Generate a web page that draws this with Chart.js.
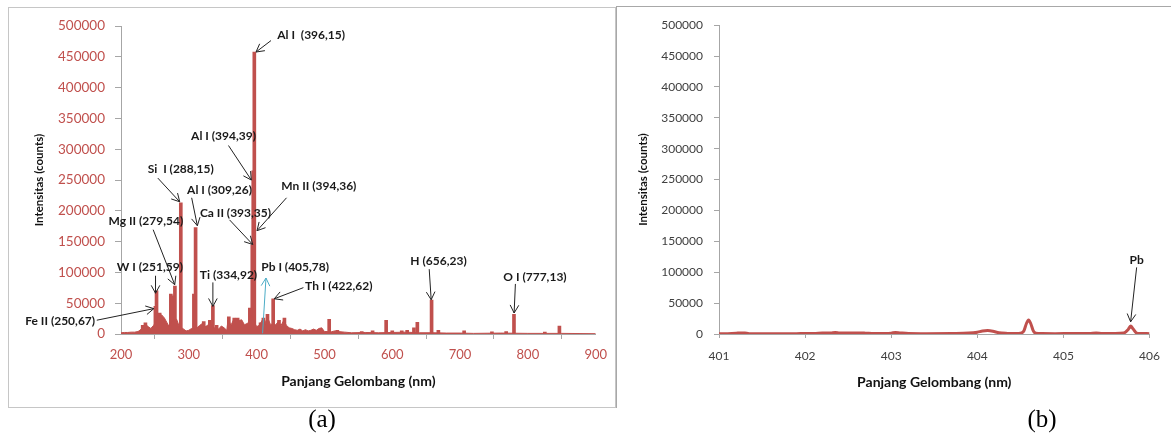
<!DOCTYPE html>
<html>
<head>
<meta charset="utf-8">
<script src="https://cdn.jsdelivr.net/npm/chart.js@4.4.1/dist/chart.umd.min.js"></script>
<style>
  body { margin: 0; background: #fff; width: 1171px; height: 436px; position: relative; overflow: hidden; }
  #boxA { position: absolute; left: 8px; top: 7px; width: 608px; height: 401px; box-sizing: border-box; border: 1px solid #c6c6c6; }
  #boxB { position: absolute; left: 616px; top: 6px; width: 560px; height: 402px; box-sizing: border-box; border-left: 1px solid #a8a8a8; border-top: 1px solid #a8a8a8; }
  #chartA { position: absolute; left: 9px; top: 8px; }
  #chartB { position: absolute; left: 618px; top: 7px; }
  .cap { position: absolute; top: 405px; width: 80px; text-align: center; font-family: 'Liberation Serif', serif; font-size: 25px; color: #000; }
</style>
</head>
<body>
<div id="boxA"></div>
<div id="boxB"></div>
<canvas id="chartA" width="606" height="398"></canvas>
<canvas id="chartB" width="553" height="399"></canvas>
<div class="cap" style="left:282px">(a)</div>
<div class="cap" style="left:1002px">(b)</div>
<script>
// (a) full spectrum: continuum read every few nm
const specNm = [200, 205, 210, 215, 220, 225, 228, 232, 236, 240, 244, 248, 252, 256, 260, 264, 268, 271, 275, 282,
  286, 291, 296, 300, 304, 308, 312, 316, 320, 324, 328, 331, 336, 340, 344, 348, 352, 356, 358, 362,
  366, 370, 374, 378, 382, 386, 389, 392, 400, 404, 408, 412, 416, 420, 428, 432, 436, 440, 444, 448,
  452, 456, 460, 464, 468, 472, 476, 480, 484, 488, 492, 496, 500, 505, 510, 515, 520, 530, 540, 560,
  580, 600, 620, 640, 660, 680, 700, 720, 760, 800, 850, 900];
const specCounts = [2000, 2500, 2500, 3000, 3000, 4000, 6000, 11000, 16000, 12000, 9000, 14000, 20000, 30000, 31000, 26000, 18000, 12000, 20000, 24000,
  12000, 9000, 5000, 6000, 9000, 8000, 10000, 14000, 17000, 12000, 14000, 20000, 9000, 11000, 8000, 13000, 10000, 6000, 25000, 14000,
  23000, 24000, 22000, 23000, 15000, 17000, 20000, 30000, 12000, 14000, 22000, 16000, 28000, 16000, 15000, 20000, 14000, 22000, 14000, 10000,
  9000, 7000, 6000, 8000, 5000, 7000, 5000, 6000, 8000, 6000, 9000, 10000, 4000, 4000, 3500, 5000, 4000, 3000, 2000, 2500,
  2000, 2500, 3000, 2000, 2000, 1500, 1500, 1000, 1500, 1000, 1000, 500];

// (a) emission lines
const lineNm = [232, 236, 250.7, 252.4, 257, 273.5, 276, 279.5, 288.2, 307.5,
  310, 322, 331, 335.5, 341, 359, 367, 372, 390, 393.6,
  395, 396.6, 405.8, 410, 416, 424.4, 433, 441, 507, 519,
  555, 571, 591, 600, 614, 622, 632, 637, 658, 668,
  706, 747, 768, 779.5, 825, 846.5];
const lineCounts = [14000, 18000, 45000, 70000, 34000, 65000, 62000, 78000, 213000, 65000,
  173000, 20000, 22000, 46000, 14000, 28000, 26000, 26000, 42000, 145000,
  265000, 458000, 18000, 26000, 32000, 57000, 22000, 26000, 24000, 6000,
  4000, 5000, 22000, 5000, 5000, 6000, 10000, 19000, 55000, 6000,
  5000, 3500, 4000, 32000, 3000, 13000];

// (b) zoom 401-406 nm
const zoomNm = [401.00, 401.10, 401.20, 401.25, 401.30, 401.35, 401.50, 401.70, 401.90, 402.10,
  402.20, 402.30, 402.35, 402.40, 402.50, 402.60, 402.70, 402.80, 402.90, 403.00,
  403.05, 403.10, 403.20, 403.40, 403.70, 403.90, 404.00, 404.06, 404.12, 404.18,
  404.25, 404.35, 404.45, 404.50, 404.54, 404.57, 404.595, 404.62, 404.65, 404.68,
  404.75, 404.90, 405.10, 405.30, 405.38, 405.45, 405.60, 405.70, 405.75, 405.78,
  405.81, 405.85, 405.90, 406.00];
const zoomCounts = [500, 600, 1200, 1800, 1500, 600, 500, 500, 600, 800,
  1500, 1800, 2500, 1800, 1600, 1800, 1400, 700, 800, 1400,
  2500, 1800, 700, 600, 900, 1500, 3000, 4800, 5500, 4500,
  2000, 1000, 800, 1200, 5000, 17000, 22500, 17000, 5000, 1200,
  700, 600, 700, 800, 1500, 800, 700, 1500, 7000, 12800,
  8000, 1500, 800, 600];

const yTicks = [0, 500000, 50000];
const xTicksA = [200, 900, 100];
const xTicksB = [401, 406, 1];

const notesA = [
  { text: 'Al I  (396,15)', at: [430.4, 485600], align: 'left', from: [421.2, 476500], to: [399.1, 457900] },
  { text: 'Al I (394,39)', at: [351.2, 322100], from: [358.5, 306100], to: [392.2, 250000] },
  { text: 'Si  I (288,15)', at: [288.1, 267600], from: [254.3, 253200], to: [286.6, 214700] },
  { text: 'Al I (309,26)', at: [345.3, 234000], from: [304.2, 221200], to: [312.6, 175800] },
  { text: 'Ca II (393,35)', at: [368.8, 196300], from: [360, 185400], to: [394.2, 145400] },
  { text: 'Mn II (394,36)', at: [436.3, 240400], align: 'left', from: [444.1, 221200], to: [400.6, 167800] },
  { text: 'Mg II (279,54)', at: [236.7, 182700], from: [247.4, 169400], to: [279.2, 80100] },
  { text: 'W I (251,59)', at: [242.6, 107900], from: [250.9, 94600], to: [250.9, 66200] },
  { text: 'Fe II (250,67)', at: [161.8, 20800], align: 'right', from: [164.3, 22400], to: [248.4, 41200] },
  { text: 'Ti (334,92)', at: [358.5, 96200], from: [335.5, 83800], to: [335.5, 44900] },
  { text: 'Pb I (405,78)', at: [456.8, 107900], from: [408.8, 1100], to: [413.8, 90900], color: '#4bacc6' },
  { text: 'Th I (422,62)', at: [471.5, 78500], align: 'left', from: [469, 75300], to: [426, 57200] },
  { text: 'H (656,23)', at: [668.2, 118600], from: [654.5, 105300], to: [657.4, 55600] },
  { text: 'O I (777,13)', at: [810.5, 93000], from: [781.6, 81300], to: [779.7, 34100] }
];
const notesB = [
  { text: 'Pb', at: [405.85, 120200], from: [405.85, 107900], to: [405.78, 19700] }
];

const RED = '#c0504d';
const AXIS = '#a6a6a6';
const FONT = 'Lato';

const pairs = (xs, ys) => xs.map((v, i) => ({ x: v, y: ys[i] }));

// labels with arrows, placed in data coordinates
function notesPlugin(notes) {
  return {
    id: 'notes',
    afterDatasetsDraw(chart) {
      const { ctx } = chart;
      const sx = chart.scales.x;
      const sy = chart.scales.y;
      ctx.save();
      notes.forEach((n) => {
        const x1 = sx.getPixelForValue(n.from[0]);
        const y1 = sy.getPixelForValue(n.from[1]);
        const x2 = sx.getPixelForValue(n.to[0]);
        const y2 = sy.getPixelForValue(n.to[1]);
        const a = Math.atan2(y2 - y1, x2 - x1);
        ctx.strokeStyle = n.color || '#222';
        ctx.lineWidth = 1;
        ctx.beginPath();
        ctx.moveTo(x1, y1);
        ctx.lineTo(x2, y2);
        [-0.5, 0.5].forEach((d) => {
          ctx.moveTo(x2, y2);
          ctx.lineTo(x2 - 9 * Math.cos(a + d), y2 - 9 * Math.sin(a + d));
        });
        ctx.stroke();
        ctx.font = `bold 12px ${FONT}`;
        ctx.fillStyle = '#1a1a1a';
        ctx.textAlign = n.align || 'center';
        ctx.textBaseline = 'middle';
        ctx.fillText(n.text, sx.getPixelForValue(n.at[0]), sy.getPixelForValue(n.at[1]));
      });
      ctx.restore();
    }
  };
}

function axes(xr, tickColor, tickSize, p) {
  return {
    x: {
      type: 'linear',
      min: xr[0],
      max: xr[1],
      offset: false,
      ticks: { stepSize: xr[2], color: tickColor, font: { family: FONT, size: tickSize }, padding: p.xPad, maxRotation: 0, callback: (v) => String(v) },
      grid: { drawOnChartArea: false, tickLength: p.xTick, color: AXIS },
      border: { color: AXIS },
      title: { display: true, text: 'Panjang Gelombang (nm)', color: '#111', font: { family: FONT, size: 14, weight: 'bold' }, padding: 0 },
      afterFit: (s) => { s.height = p.xH; }
    },
    y: {
      min: yTicks[0],
      max: yTicks[1],
      ticks: { stepSize: yTicks[2], color: tickColor, font: { family: FONT, size: p.ySize }, padding: p.yPad, callback: (v) => String(v) },
      grid: { drawOnChartArea: false, tickLength: p.yTick, color: AXIS },
      border: { color: AXIS },
      title: { display: true, text: 'Intensitas (counts)', color: '#111', font: { family: FONT, size: 11.5, weight: 'bold' }, padding: { top: p.yTitle, bottom: 0 } },
      afterFit: (s) => { s.width = p.yW; }
    }
  };
}

new Chart(document.getElementById('chartA'), {
  type: 'bar',
  data: {
    datasets: [
      {
        type: 'line',
        data: pairs(specNm, specCounts),
        borderColor: RED,
        backgroundColor: RED,
        borderWidth: 1,
        pointRadius: 0,
        fill: 'origin',
        tension: 0
      },
      {
        type: 'bar',
        data: pairs(lineNm, lineCounts),
        backgroundColor: RED,
        barThickness: 3
      }
    ]
  },
  options: {
    responsive: false,
    animation: false,
    layout: { padding: { left: 0, top: 14, right: 17, bottom: 16 } },
    plugins: { legend: { display: false }, tooltip: { enabled: false } },
    scales: axes(xTicksA, RED, 13, { xPad: 8, xTick: 5, xH: 56, ySize: 13.5, yPad: 10, yTick: 6, yTitle: 23, yW: 112 })
  },
  plugins: [notesPlugin(notesA)]
});

new Chart(document.getElementById('chartB'), {
  type: 'line',
  data: {
    datasets: [{
      data: pairs(zoomNm, zoomCounts),
      borderColor: RED,
      borderWidth: 3,
      pointRadius: 0,
      cubicInterpolationMode: 'monotone'
    }]
  },
  options: {
    responsive: false,
    animation: false,
    layout: { padding: { left: 0, top: 15, right: 17, bottom: 15 } },
    plugins: { legend: { display: false }, tooltip: { enabled: false } },
    scales: axes(xTicksB, '#404040', 12, { xPad: 11, xTick: 4, xH: 57, ySize: 12, yPad: 11, yTick: 5, yTitle: 18, yW: 101 })
  },
  plugins: [notesPlugin(notesB)]
});
</script>
</body>
</html>
